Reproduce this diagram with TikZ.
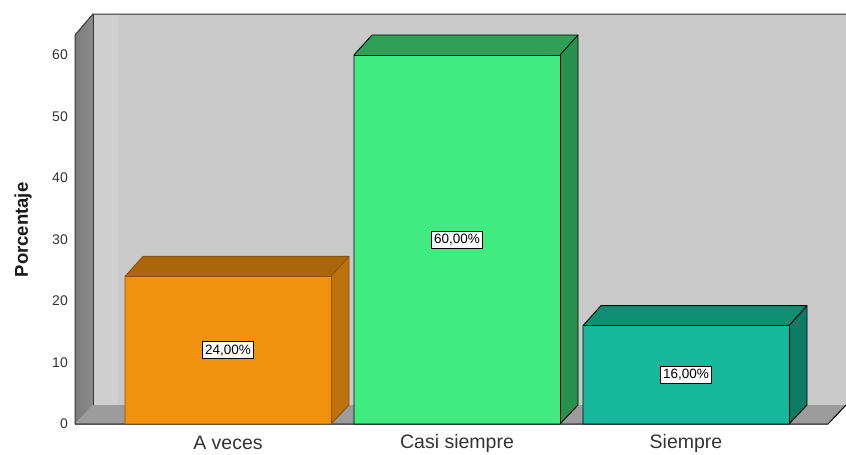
\documentclass[tikz,border=0pt]{standalone}
\usepackage{fontspec}
\setmainfont{Liberation Sans}
\usepackage{xcolor}

\definecolor{wallback}{HTML}{C9C9C9}
\definecolor{wallside}{HTML}{8A8A8A}
\definecolor{floorgray}{HTML}{9C9C9C}
\definecolor{orangefront}{HTML}{F0920E}
\definecolor{orangetop}{HTML}{AC660A}
\definecolor{orangeside}{HTML}{BE720E}
\definecolor{orangeline}{HTML}{8A5208}
\definecolor{greenfront}{HTML}{40EC80}
\definecolor{greentop}{HTML}{2FA057}
\definecolor{greenside}{HTML}{28914C}
\definecolor{tealfront}{HTML}{16B79B}
\definecolor{tealtop}{HTML}{0F8E73}
\definecolor{tealside}{HTML}{0B7B63}
\definecolor{textgray}{HTML}{333333}

\tikzset{
  ticklabel/.style={anchor=east, text=textgray, font=\fontsize{14}{15}\selectfont, inner sep=0pt},
  catlabel/.style={text=textgray, font=\fontsize{19.5}{22}\selectfont, inner sep=0pt},
  valuebox/.style={draw=black, fill=white, line width=0.6pt, inner xsep=2.5pt, inner ysep=3pt, font=\fontsize{13.5}{15}\selectfont},
}

\begin{document}
\begin{tikzpicture}[x=1pt,y=-1pt]
        \useasboundingbox (0,0) rectangle (846,455);
        % walls and floor
        \fill [wallback] (93,14) rectangle (846,405);
        \fill [white, opacity=0.12] (93,14) rectangle (118,405);
        \shade [left color=wallside!90!black, right color=wallside] (75,35) -- (93,14) -- (93,405) -- (75,424) -- cycle;
        \fill [floorgray] (75,424) -- (93,405) -- (846,405) -- (828,424) -- cycle;
        \draw [black!80, line width=1pt] (75,424) -- (75,35) -- (93,14) -- (846,14);
        \draw [black!80, line width=0.8pt] (93,14) -- (93,405);
        \draw [black, line width=1pt] (75,424) -- (828,424) -- (846,405);

        % bars
        \foreach \i/\xl/\val/\cf/\ct/\cs/\cl/\txt/\cat in {
            1/125/24/orangefront/orangetop/orangeside/orangeline/{24,00\%}/{A veces},
            2/354/60/greenfront/greentop/greenside/black/{60,00\%}/{Casi siempre},
            3/583/16/tealfront/tealtop/tealside/black/{16,00\%}/{Siempre}}
        {
            \pgfmathsetmacro{\yt}{424-6.15*\val}
            \pgfmathsetmacro{\xr}{\xl+206}
            \fill [\ct] (\xl,\yt) -- (\xl+18,\yt-20) -- (\xr+18,\yt-20) -- (\xr,\yt) -- cycle;
            \fill [\cs] (\xr,\yt) -- (\xr+18,\yt-20) -- (\xr+18,405) -- (\xr,424) -- cycle;
            \fill [\cf] (\xl,\yt) rectangle (\xr,424);
            \draw [\cl, line width=0.9pt, line join=round] (\xl,424) -- (\xl,\yt) -- (\xl+18,\yt-20) -- (\xr+18,\yt-20) -- (\xr+18,405) -- (\xr,424) -- cycle;
            \draw [\cl, line width=0.9pt] (\xl,\yt) -- (\xr,\yt) -- (\xr,424);
            \draw [\cl, line width=0.9pt] (\xr,\yt) -- (\xr+18,\yt-20);
            \node [valuebox] (value\i) at ({\xl+103},{(\yt+424)/2}) {\txt};
            \node [catlabel] (cat\i) at ({\xl+103},443) {\cat};
        }

        % axis ticks
        \foreach \t in {0,10,...,60}
            \node [ticklabel] (tick\t) at (68,{424-6.15*\t}) {\t};
        \node [rotate=90, font=\bfseries\fontsize{18.5}{20}\selectfont, text=black!90] (ytitle) at (23,230) {Porcentaje};
\end{tikzpicture}
\end{document}
